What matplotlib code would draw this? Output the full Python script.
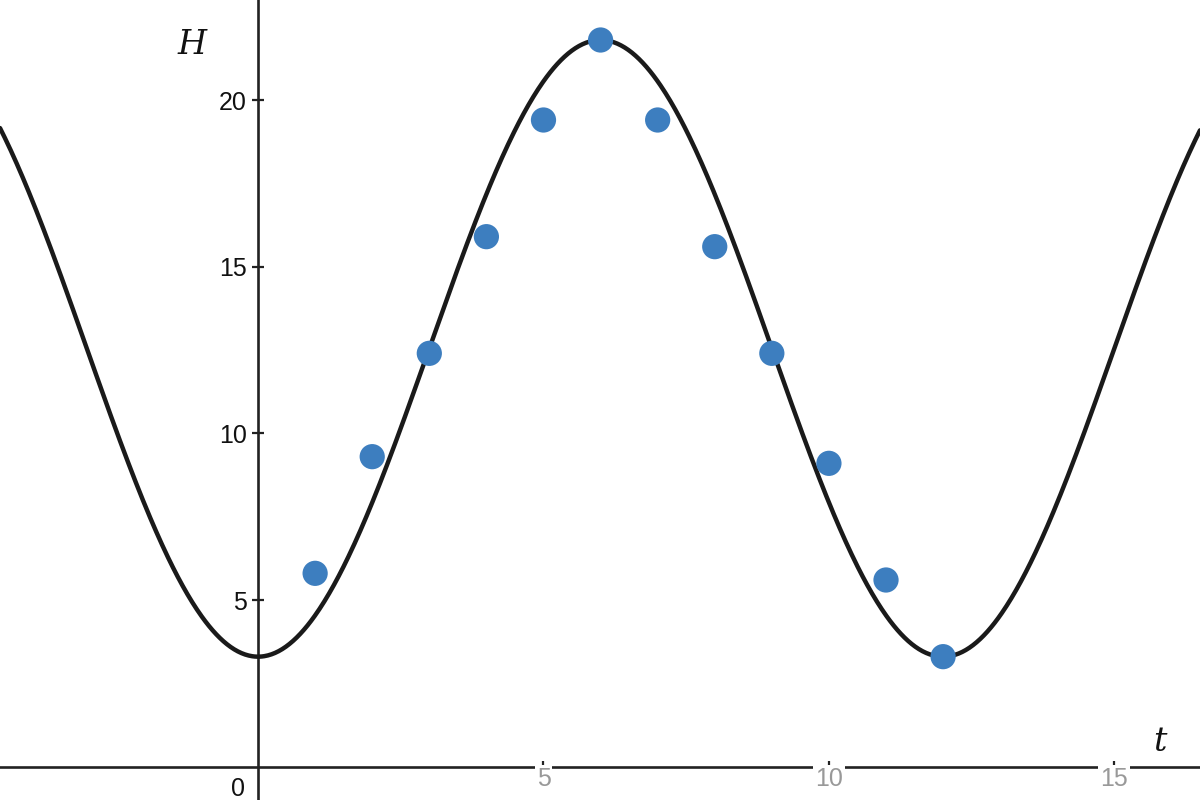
import numpy as np
import matplotlib
matplotlib.use("Agg")
import matplotlib.pyplot as plt

# Data points (t, H)
t_data = [1, 2, 3, 4, 5, 6, 7, 8, 9, 10, 11, 12]
h_data = [5.8, 9.3, 12.4, 15.9, 19.4, 21.8, 19.4, 15.6, 12.4, 9.1, 5.6, 3.3]

# Model curve parameters: H = midline - amplitude * cos(2*pi*t/period)
midline = 12.55
amplitude = 9.25
period = 12.0

x_ticks = [5, 10, 15]
y_ticks = [5, 10, 15, 20]

plt.rcParams['font.family'] = ['Liberation Sans', 'DejaVu Sans']

fig = plt.figure(figsize=(12, 8), dpi=100)
ax = fig.add_axes([0, 0, 1, 1])
xmin, xmax = -4.52, 16.5
ymin, ymax = -1.0, 23.0
ax.set_xlim(xmin, xmax)
ax.set_ylim(ymin, ymax)

axis_color = '#222222'
ax.spines['left'].set_position(('data', 0))
ax.spines['bottom'].set_position(('data', 0))
ax.spines['right'].set_visible(False)
ax.spines['top'].set_visible(False)
for s in ('left', 'bottom'):
    ax.spines[s].set_color(axis_color)
    ax.spines[s].set_linewidth(1.9)
    ax.spines[s].set_zorder(1)

ax.set_xticks(x_ticks)
ax.set_yticks(y_ticks)
ax.set_xticklabels([str(v) for v in x_ticks])
ax.set_yticklabels([str(v) for v in y_ticks])
ax.tick_params(axis='both', direction='inout', length=8, width=1.6, color=axis_color)
ax.tick_params(axis='x', labelsize=18, labelcolor='#999999', pad=-4)
ax.tick_params(axis='y', labelsize=18, labelcolor='#111111', pad=4)
for lbl in ax.get_xticklabels():
    lbl.set_bbox(dict(facecolor='white', edgecolor='none', pad=1.5))
    lbl.set_zorder(3)

tt = np.linspace(xmin, xmax, 1000)
hh = midline - amplitude * np.cos(2 * np.pi * tt / period)
ax.plot(tt, hh, color='#1a1a1a', linewidth=3.2, zorder=4, solid_capstyle='round')

ax.scatter(t_data, h_data, s=330, color='#3d7ebf', edgecolors='none', zorder=5)

ax.text(-0.35, -0.3, '0', fontsize=18, color='#111111', ha='center', va='top')
ax.text(-1.15, 21.65, 'H', fontsize=24, family='DejaVu Serif', style='italic',
        ha='center', va='center', color='#111111')
ax.text(15.8, 0.75, 't', fontsize=24, family='DejaVu Serif', style='italic',
        ha='center', va='center', color='#111111')

fig.savefig('out.png', dpi=100)
